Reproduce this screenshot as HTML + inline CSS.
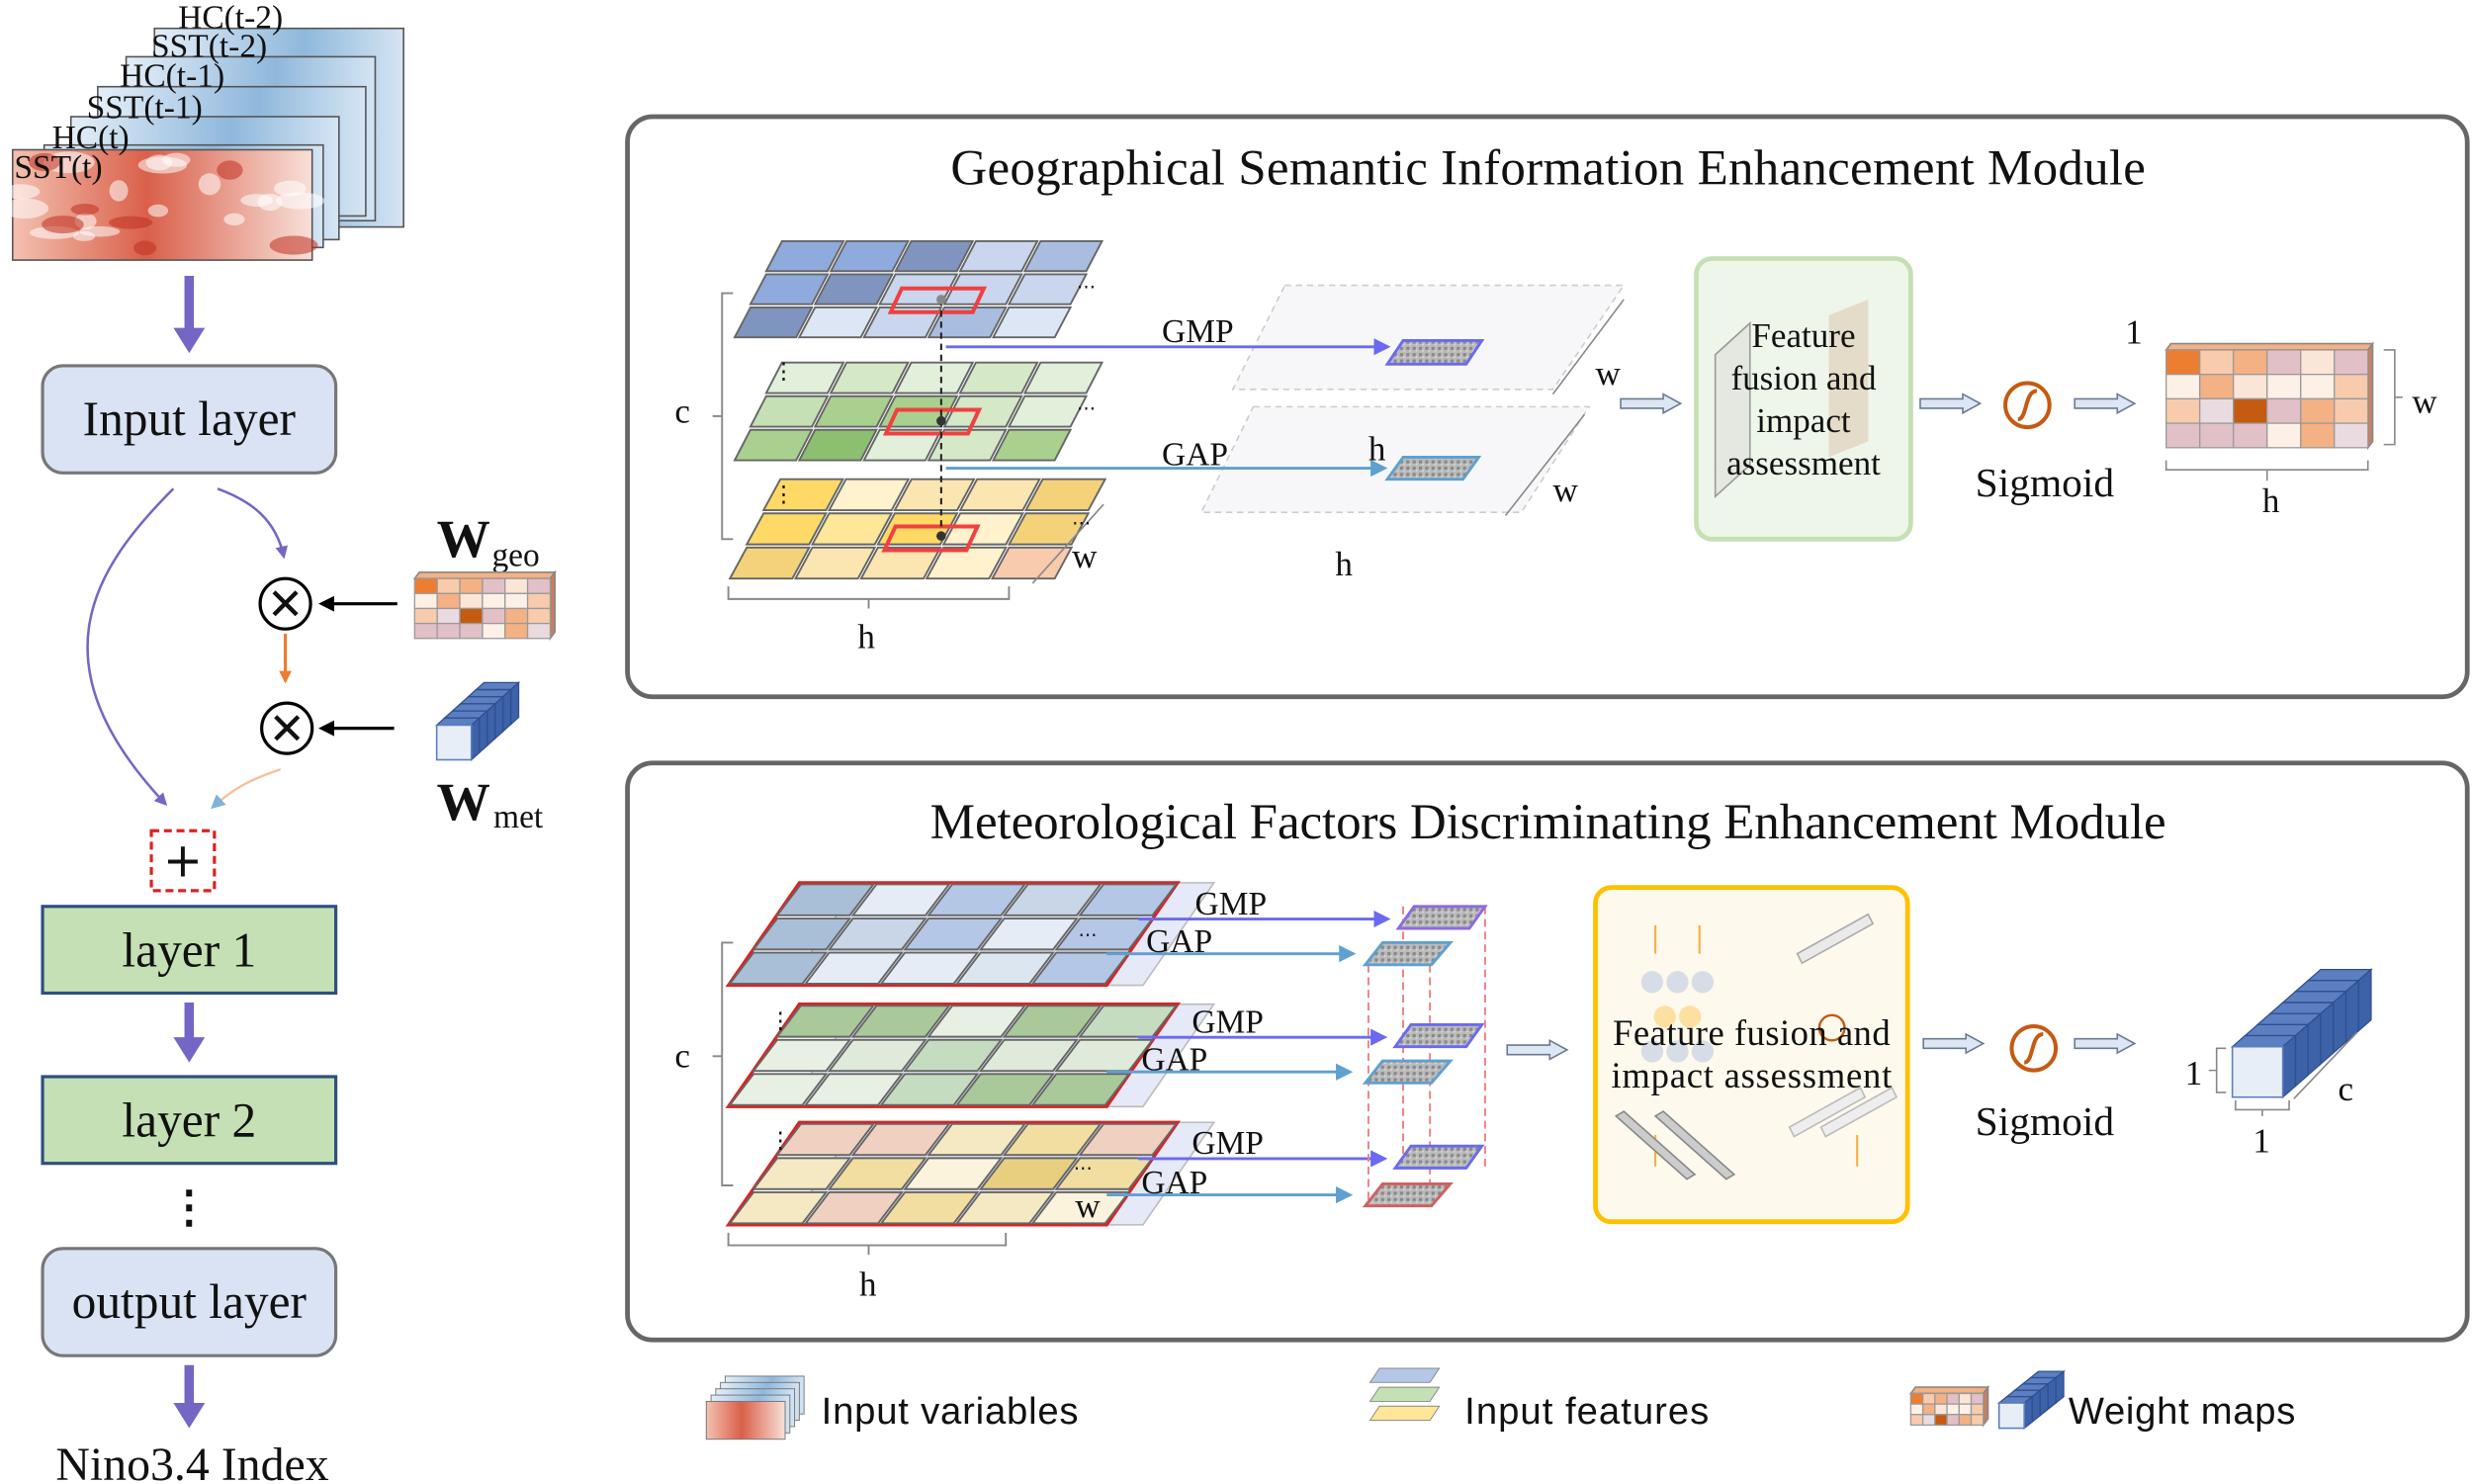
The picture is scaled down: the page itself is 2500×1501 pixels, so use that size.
<!DOCTYPE html>
<html><head><meta charset="utf-8"><style>
html,body{margin:0;padding:0;background:#fff}
svg{display:block}
text{font-family:"Liberation Serif",serif;fill:#111}
</style></head><body>
<svg id="sv" width="2500" height="1501" viewBox="0 0 1568 941.4" preserveAspectRatio="none" xmlns="http://www.w3.org/2000/svg">
<defs>
<marker id="ap" viewBox="0 0 10 10" refX="8" refY="5" markerWidth="5" markerHeight="5" orient="auto"><path d="M0,0L10,5L0,10z" fill="#7466c4"/></marker>
<marker id="ab" viewBox="0 0 10 10" refX="8" refY="5" markerWidth="6" markerHeight="6" orient="auto"><path d="M0,0L10,5L0,10z" fill="#6a6af0"/></marker>
<marker id="al" viewBox="0 0 10 10" refX="8" refY="5" markerWidth="6" markerHeight="6" orient="auto"><path d="M0,0L10,5L0,10z" fill="#5fa0d0"/></marker>
<marker id="ak" viewBox="0 0 10 10" refX="8" refY="5" markerWidth="5" markerHeight="5" orient="auto"><path d="M0,0L10,5L0,10z" fill="#000"/></marker>
<marker id="ao" viewBox="0 0 10 10" refX="8" refY="5" markerWidth="4" markerHeight="4" orient="auto"><path d="M0,0L10,5L0,10z" fill="#ed7d31"/></marker>
<pattern id="noise" width="4" height="4" patternUnits="userSpaceOnUse"><rect width="4" height="4" fill="#bbb"/><rect width="2" height="2" fill="#888"/><rect x="2" y="2" width="1" height="1" fill="#ddd"/></pattern>
<linearGradient id="red" x1="0" x2="1"><stop offset="0" stop-color="#f4c0b0"/><stop offset=".45" stop-color="#d9604a"/><stop offset="1" stop-color="#f8e0d8"/></linearGradient>
<linearGradient id="blu" x1="0" x2="1"><stop offset="0" stop-color="#e4eef8"/><stop offset=".6" stop-color="#8fb8dc"/><stop offset="1" stop-color="#d5e5f3"/></linearGradient>
<symbol id="harr" viewBox="0 0 40 14"><path d="M1,4H28V1L39,7L28,13V10H1z" fill="#dce6f4" stroke="#6a7a90" stroke-width="1"/></symbol>
</defs>

<g id="stack"></g>
<g font-size="21">
<text x="113" y="18">HC(t-2)</text>
<text x="96" y="36">SST(t-2)</text>
<text x="76" y="55">HC(t-1)</text>
<text x="55" y="75">SST(t-1)</text>
<text x="33" y="94">HC(t)</text>
<text x="9" y="113">SST(t)</text>
</g>

<path d="M120,175V212" stroke="#7466c4" stroke-width="6"/><path d="M110,208L120,224L130,208z" fill="#7466c4"/>
<rect x="27" y="232" width="186" height="68" rx="13" fill="#dae3f3" stroke="#777" stroke-width="2"/>
<text x="120" y="276" font-size="31" text-anchor="middle">Input layer</text>
<path d="M110,310C60,360 20,420 105,510" fill="none" stroke="#7466c4" stroke-width="1.6" marker-end="url(#ap)"/>
<path d="M138,310C160,318 175,330 180,353" fill="none" stroke="#7466c4" stroke-width="1.6" marker-end="url(#ap)"/>
<path d="M178,488C160,494 148,500 135,512" fill="none" stroke="#f4b183" stroke-width="1.5" marker-end="url(#al)" opacity=".8"/>
<circle cx="181" cy="383" r="16" fill="#fff" stroke="#000" stroke-width="2"/><text x="181" y="393" font-size="28" text-anchor="middle" style="font-family:'DejaVu Sans',sans-serif">✕</text>
<circle cx="182" cy="462" r="16" fill="#fff" stroke="#000" stroke-width="2"/><text x="182" y="472" font-size="28" text-anchor="middle" style="font-family:'DejaVu Sans',sans-serif">✕</text>
<path d="M181,402V432" stroke="#ed7d31" stroke-width="2" marker-end="url(#ao)"/>
<path d="M252,383H204" stroke="#000" stroke-width="2" marker-end="url(#ak)"/>
<path d="M250,462H204" stroke="#000" stroke-width="2" marker-end="url(#ak)"/>
<text x="277" y="353" font-size="34" font-weight="bold">W</text><text x="312" y="359" font-size="21">geo</text>
<g id="wgeo"></g>
<g id="wmet"></g>
<text x="277" y="520" font-size="34" font-weight="bold">W</text><text x="313" y="525" font-size="21">met</text>
<rect x="96" y="527" width="40" height="38" fill="none" stroke="#e02020" stroke-width="2" stroke-dasharray="5,3"/>
<text x="116" y="556" font-size="30" text-anchor="middle" style="font-family:'DejaVu Sans',sans-serif">+</text>
<rect x="27" y="575" width="186" height="55" fill="#c5e0b4" stroke="#2f4f80" stroke-width="2"/>
<text x="120" y="613" font-size="31" text-anchor="middle">layer 1</text>
<path d="M120,636V662" stroke="#7466c4" stroke-width="6"/><path d="M110,658L120,674L130,658z" fill="#7466c4"/>
<rect x="27" y="683" width="186" height="55" fill="#c5e0b4" stroke="#2f4f80" stroke-width="2"/>
<text x="120" y="721" font-size="31" text-anchor="middle">layer 2</text>
<text x="120" y="775" font-size="28" text-anchor="middle" font-weight="bold">⋮</text>
<rect x="27" y="792" width="186" height="68" rx="13" fill="#dae3f3" stroke="#777" stroke-width="2"/>
<text x="120" y="836" font-size="31" text-anchor="middle">output layer</text>
<path d="M120,866V894" stroke="#7466c4" stroke-width="6"/><path d="M110,890L120,906L130,890z" fill="#7466c4"/>
<text x="122" y="939" font-size="30" text-anchor="middle">Nino3.4 Index</text>

<rect x="398" y="74" width="1167" height="368" rx="16" fill="none" stroke="#666" stroke-width="3"/>
<text x="982" y="117" font-size="32" text-anchor="middle" textLength="758">Geographical Semantic Information Enhancement Module</text>
<rect x="398" y="484" width="1167" height="366" rx="16" fill="none" stroke="#666" stroke-width="3"/>
<text x="982" y="532" font-size="32" text-anchor="middle" textLength="784">Meteorological Factors Discriminating Enhancement Module</text>

<g id="grids"></g>

<path d="M465,186H458V342H465M458,264H452" fill="none" stroke="#888" stroke-width="1.2"/>
<text x="428" y="268" font-size="22">c</text>
<path d="M462,372V380H640V372M551,380V386" fill="none" stroke="#888" stroke-width="1.2"/>
<text x="544" y="411" font-size="22">h</text>
<path d="M655,370L700,320" fill="none" stroke="#888"/><text x="680" y="360" font-size="22">w</text>
<text x="490" y="240" font-size="14">⋮</text><text x="490" y="318" font-size="14">⋮</text>
<text x="683" y="186" font-size="12">⋯</text><text x="683" y="263" font-size="12">⋯</text><text x="680" y="336" font-size="12">⋯</text>
<path d="M597,190V342" stroke="#222" stroke-dasharray="4,3" stroke-width="1.3"/>
<circle cx="597" cy="190" r="3" fill="#888"/><circle cx="597" cy="267" r="3" fill="#333"/><circle cx="597" cy="340" r="3" fill="#333"/>
<path d="M815,181H1030L985,247H782z" fill="#f7f7f9" stroke="#ccc" stroke-dasharray="4,3"/>
<path d="M795,258H1008L965,325H762z" fill="#f7f7f9" stroke="#ccc" stroke-dasharray="4,3"/>
<path d="M600,220H880" stroke="#6a6af0" stroke-width="1.8" marker-end="url(#ab)"/>
<text x="737" y="217" font-size="21">GMP</text>
<path d="M600,297H878" stroke="#5fa0d0" stroke-width="1.8" marker-end="url(#al)"/>
<text x="737" y="295" font-size="21">GAP</text>
<path d="M890,216H940L930,231H880z" fill="url(#noise)" stroke="#6a6af0" stroke-width="1.8"/>
<path d="M890,290H938L928,304H880z" fill="url(#noise)" stroke="#5fa0d0" stroke-width="1.8"/>
<path d="M985,250L1030,190" fill="none" stroke="#888"/><text x="1012" y="244" font-size="22">w</text>
<path d="M955,327L1005,263" fill="none" stroke="#888"/><text x="985" y="318" font-size="22">w</text>
<text x="868" y="292" font-size="22">h</text><text x="847" y="365" font-size="22">h</text>
<use href="#harr" x="1026" y="249" width="42" height="14"/>
<rect x="1076" y="164" width="136" height="178" rx="10" fill="#eef6ea" stroke="#c5e0b4" stroke-width="3"/>
<path d="M1088,225L1110,205V295L1088,315z" fill="#e4e8e0" stroke="#999"/>
<path d="M1160,200L1185,190V280L1160,290z" fill="#e4dcc8"/>
<g font-size="22" text-anchor="middle">
<text x="1144" y="220">Feature</text>
<text x="1144" y="247">fusion and</text>
<text x="1144" y="274">impact</text>
<text x="1144" y="301">assessment</text>
</g>
<use href="#harr" x="1216" y="249" width="42" height="14"/>
<circle cx="1286" cy="257" r="14" fill="none" stroke="#c55a11" stroke-width="2.5"/>
<path d="M1280,266C1286,266 1284,248 1292,248" fill="none" stroke="#c55a11" stroke-width="2.5"/>
<text x="1297" y="315" font-size="26" text-anchor="middle">Sigmoid</text>
<use href="#harr" x="1314" y="249" width="42" height="14"/>
<g id="wout"></g>
<text x="1348" y="218" font-size="22">1</text>
<path d="M1374,292V298H1502V292M1438,298V305" fill="none" stroke="#888"/><text x="1435" y="325" font-size="22">h</text>
<path d="M1512,222H1519V282H1512M1519,252H1524" fill="none" stroke="#888"/><text x="1530" y="262" font-size="22">w</text>

<path d="M465,598H458V752H465M458,670H452" fill="none" stroke="#888" stroke-width="1.2"/>
<text x="428" y="677" font-size="22">c</text>
<path d="M462,782V790H638V782M551,790V796" fill="none" stroke="#888" stroke-width="1.2"/>
<text x="545" y="822" font-size="22">h</text>
<text x="682" y="772" font-size="22">w</text>
<text x="488" y="652" font-size="14">⋮</text><text x="488" y="728" font-size="14">⋮</text>
<text x="684" y="597" font-size="12">⋯</text><text x="681" y="745" font-size="12">⋯</text>
<path d="M722,583H880" stroke="#6a6af0" stroke-width="1.8" marker-end="url(#ab)"/><text x="758" y="580" font-size="21">GMP</text>
<path d="M702,605H858" stroke="#5fa0d0" stroke-width="1.8" marker-end="url(#al)"/><text x="727" y="604" font-size="21">GAP</text>
<path d="M722,658H878" stroke="#6a6af0" stroke-width="1.8" marker-end="url(#ab)"/><text x="756" y="655" font-size="21">GMP</text>
<path d="M702,680H856" stroke="#5fa0d0" stroke-width="1.8" marker-end="url(#al)"/><text x="724" y="679" font-size="21">GAP</text>
<path d="M722,735H878" stroke="#6a6af0" stroke-width="1.8" marker-end="url(#ab)"/><text x="756" y="732" font-size="21">GMP</text>
<path d="M702,758H856" stroke="#5fa0d0" stroke-width="1.8" marker-end="url(#al)"/><text x="724" y="757" font-size="21">GAP</text>
<g fill="none" stroke="#f08080" stroke-dasharray="5,3" stroke-width="1.2">
<path d="M868,612V765M907,612V765M890,575V740M942,575V740"/>
</g>
<g stroke-width="1.8">
<path d="M897,575H942L932,589H887z" fill="url(#noise)" stroke="#8a6ae0"/>
<path d="M877,598H920L908,612H866z" fill="url(#noise)" stroke="#5fa0d0"/>
<path d="M895,650H940L930,664H885z" fill="url(#noise)" stroke="#6a6af0"/>
<path d="M877,673H920L908,687H866z" fill="url(#noise)" stroke="#5fa0d0"/>
<path d="M895,727H940L930,741H885z" fill="url(#noise)" stroke="#6a6af0"/>
<path d="M877,751H920L908,765H866z" fill="url(#noise)" stroke="#d06060"/>
</g>
<use href="#harr" x="954" y="659" width="42" height="14"/>
<rect x="1012" y="563" width="198" height="212" rx="10" fill="#fdf9ec" stroke="#ffc000" stroke-width="3"/>
<g fill="#d6dde6"><circle cx="1048" cy="623" r="7"/><circle cx="1064" cy="623" r="7"/><circle cx="1080" cy="623" r="7"/><circle cx="1048" cy="667" r="7"/><circle cx="1064" cy="667" r="7"/><circle cx="1080" cy="667" r="7"/></g>
<g fill="#fde0a0"><circle cx="1056" cy="645" r="7"/><circle cx="1072" cy="645" r="7"/></g>
<path d="M1050,587V605M1078,587V605M1050,740V720M1178,740V720" stroke="#f4b040" stroke-width="1.3"/>
<path d="M1140,605L1185,580L1188,586L1143,611z" fill="#eaeaea" stroke="#aaa"/>
<path d="M1030,705L1075,745L1070,748L1025,708zM1055,705L1100,745L1095,748L1050,708z" fill="#ccc" stroke="#888"/>
<path d="M1135,715L1180,690L1183,696L1138,721zM1155,715L1200,690L1203,696L1158,721z" fill="#eee" stroke="#bbb"/>
<circle cx="1162" cy="652" r="8" fill="none" stroke="#c55a11" stroke-width="1.5"/>
<text x="1111" y="663" font-size="23" text-anchor="middle" textLength="176">Feature fusion and</text>
<text x="1111" y="690" font-size="23" text-anchor="middle" textLength="178">impact assessment</text>
<use href="#harr" x="1218" y="655" width="42" height="14"/>
<circle cx="1290" cy="665" r="14" fill="none" stroke="#c55a11" stroke-width="2.5"/>
<path d="M1284,674C1290,674 1288,656 1296,656" fill="none" stroke="#c55a11" stroke-width="2.5"/>
<text x="1297" y="720" font-size="26" text-anchor="middle">Sigmoid</text>
<use href="#harr" x="1314" y="655" width="42" height="14"/>
<g id="cube2"></g>
<text x="1386" y="688" font-size="22">1</text>
<path d="M1412,665H1406V693H1412M1406,679H1401" fill="none" stroke="#888"/>
<path d="M1418,698V704H1452V698M1435,704V708" fill="none" stroke="#888"/><text x="1429" y="731" font-size="22">1</text>
<path d="M1455,697L1495,655" fill="none" stroke="#888"/><text x="1483" y="698" font-size="22">c</text>

<g id="leg"></g>
<g font-size="24" style="font-family:'Liberation Sans',sans-serif">
<text x="521" y="903" style="font-family:'Liberation Sans',sans-serif" textLength="163">Input variables</text>
<text x="929" y="903" style="font-family:'Liberation Sans',sans-serif" textLength="155">Input features</text>
<text x="1312" y="903" style="font-family:'Liberation Sans',sans-serif" textLength="144">Weight maps</text>
</g>
</svg>
<script>
const NS="http://www.w3.org/2000/svg";
function el(p,t,a){const e=document.createElementNS(NS,t);for(const k in a)e.setAttribute(k,a[k]);p.appendChild(e);return e;}
function rnd(s){return()=>{s=(s*9301+49297)%233280;return s/233280;}}
const st=document.getElementById('stack');
const frames=[[98,18,158,126],[80,36,158,104],[62,55,170,82],[45,74,170,78],[28,92,177,65],[8,95,190,70]];
frames.forEach((f,i)=>{el(st,'rect',{x:f[0],y:f[1],width:f[2],height:f[3],fill:i==5?'url(#red)':'url(#blu)',stroke:'#555','stroke-width':1});});
const r0=rnd(7);for(let i=0;i<25;i++){el(st,'ellipse',{cx:12+r0()*180,cy:100+r0()*60,rx:5+r0()*12,ry:3+r0()*4,fill:r0()<.5?'#fff':'#c03020',opacity:.55});}
const G=document.getElementById('grids');
function grid(x0,y0,W,H,sk,cols,rows,pal,seed,outline){
 const r=rnd(seed);const cw=W/cols,ch=H/rows;
 if(outline) el(G,'path',{d:`M${x0+sk},${y0}h${W}l${-sk},${H}h${-W}z`,fill:'none',stroke:outline,'stroke-width':2});
 for(let j=0;j<rows;j++)for(let i=0;i<cols;i++){
  const x=x0+sk-sk*j/rows+i*cw,y=y0+j*ch,d=sk/rows;
  el(G,'path',{d:`M${x+1},${y+1}h${cw-2}l${-d},${ch-2}h${-(cw-2)}z`,fill:pal[Math.floor(r()*pal.length)],stroke:'#666','stroke-width':1.2});
 }
}
const B=['#b4c7e7','#8faadc','#c9d6ee','#a9bde0','#dde6f5','#7f95c0'];
const Gr=['#a9d08e','#c5e0b4','#e2efda','#8cbf70','#d5e8c8'];
const Y=['#ffe699','#fff2cc','#f4d27a','#ffd966','#fbe5b0','#f8cbad'];
const BG=['#c9d6e8','#b4c7e7','#dce6f1','#a9bfd8','#e6ecf5'];
const GG=['#c5dcc0','#dfeadb','#a9c99a','#e8f0e4'];
const YY=['#f5e9c4','#f1dea0','#fbf3dc','#e8cf80','#f0d0c0'];
grid(465,152,205,63,30,5,3,B,3);grid(465,229,205,64,30,5,3,Gr,5);grid(462,303,208,65,32,5,3,Y,9);
[[572,183],[569,260],[568,334]].forEach(c=>el(G,'path',{d:`M${c[0]},${c[1]}h52l-7,15h-52z`,fill:'none',stroke:'#f04040','stroke-width':2.5}));
[560,637,712].forEach(y=>{el(G,'path',{d:`M545,${y}h225l-45,65h-225z`,fill:'#e6e9f7',stroke:'#bbb'});});
grid(462,560,240,65,45,5,3,BG,11,'#e02020');grid(462,637,240,65,45,5,3,GG,13,'#e02020');grid(462,712,240,65,45,5,3,YY,17,'#e02020');
const O=['#fbe5d6','#f8cbad','#f4b183','#fdf0e6','#eadbe0','#e2c0c8'];
const OS=['#ed7d31','#c55a11','#a04010'];
function heat(g,x,y,w,h,cols,rows,seed){const r=rnd(seed);const cw=w/cols,ch=h/rows;
 el(g,'path',{d:`M${x+3},${y-4}h${w}l-3,4h${-w}z`,fill:'#f4b183',stroke:'#888'});
 el(g,'path',{d:`M${x+w},${y}l3,-4v${h}l-3,4z`,fill:'#c88060',stroke:'#888'});
 for(let j=0;j<rows;j++)for(let i=0;i<cols;i++){const v=r();el(g,'rect',{x:x+i*cw,y:y+j*ch,width:cw,height:ch,fill:v<.15?OS[Math.floor(r()*3)]:O[Math.floor(r()*O.length)],stroke:'#999','stroke-width':.8});}}
heat(document.getElementById('wgeo'),263,367,86,38,6,4,21);
heat(document.getElementById('wout'),1374,222,128,62,6,4,21);
function cube(g,x,y,s,n,dx,dy){for(let k=n;k>=0;k--){const ox=x+k*dx,oy=y-k*dy;
 el(g,'path',{d:`M${ox},${oy}l${dx},${-dy}h${s}l${-dx},${dy}z`,fill:'#5b7fc0',stroke:'#2f4f90','stroke-width':.8});
 el(g,'path',{d:`M${ox+s},${oy}l${dx},${-dy}v${s}l${-dx},${dy}z`,fill:'#3d62a8',stroke:'#2f4f90','stroke-width':.8});}
 el(g,'rect',{x:x,y:y,width:s,height:s,fill:'#e8eef8',stroke:'#5b7fc0'});}
cube(document.getElementById('wmet'),277,460,22,5,5,4.5);
cube(document.getElementById('cube2'),1416,664,32,6,8,7);
const L=document.getElementById('leg');
for(let i=0;i<5;i++)el(L,'rect',{x:460-i*3,y:873+i*4,width:50,height:24,fill:i==4?'url(#red)':'url(#blu)',stroke:'#777','stroke-width':.6});
[['#b4c7e7',868],['#c5e0b4',880],['#ffe699',892]].forEach(c=>el(L,'path',{d:`M875,${c[1]}h38l-6,9h-38z`,fill:c[0],stroke:'#888','stroke-width':.6}));
heat(L,1212,884,46,20,6,3,21);
cube(L,1268,890,16,4,5,4);
</script>
</body></html>
